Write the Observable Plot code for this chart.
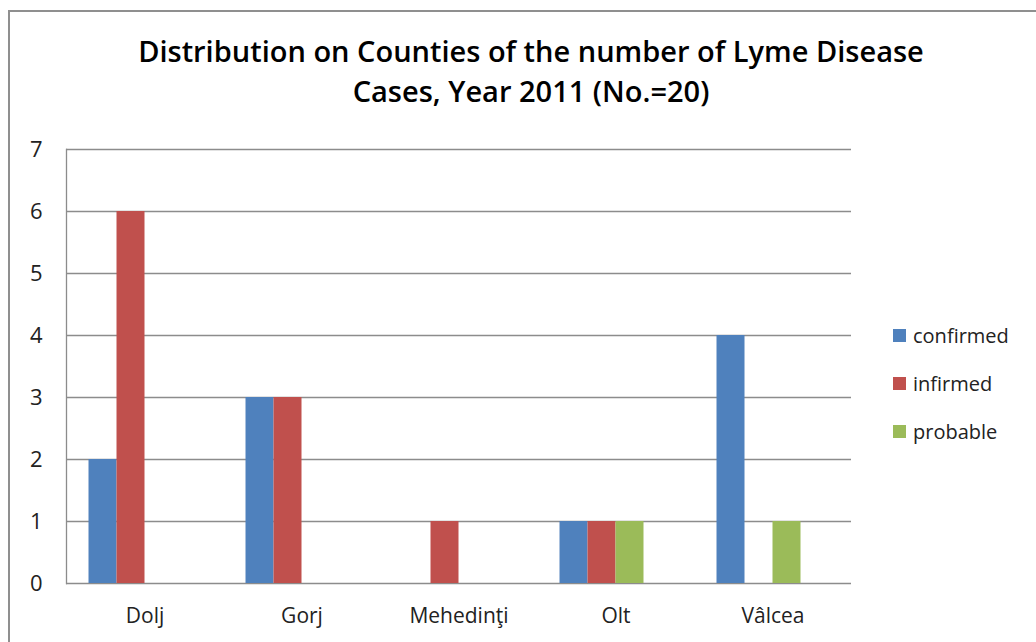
<!DOCTYPE html>
<html>
<head>
<meta charset="utf-8">
<script src="https://cdn.jsdelivr.net/npm/d3@7"></script>
<script src="https://cdn.jsdelivr.net/npm/@observablehq/plot@0.6"></script>
<style>
  html, body { margin: 0; padding: 0; background: #fff; }
  #wrap { position: relative; width: 1036px; height: 642px; overflow: hidden; font-family: "Open Sans", sans-serif; }
  #border { position: absolute; left: 8px; top: 10px; width: 1200px; height: 800px; border-top: 2px solid #8f8f8f; border-left: 2px solid #8f8f8f; }
  #title { position: absolute; left: 0; top: 31px; width: 1062px; text-align: center; font-size: 29px; font-weight: 600; line-height: 40px; color: #000; }
  #chart { position: absolute; left: 0; top: 120px; }
  #legend { position: absolute; left: 893px; top: 311px; }
  .row { display: flex; align-items: center; height: 48px; font-size: 20px; color: #222; }
  .sw { width: 13px; height: 13px; margin-right: 7px; }
</style>
</head>
<body>
<div id="wrap">
  <div id="border"></div>
  <div id="title"></div>
  <div id="chart"></div>
  <div id="legend"></div>
</div>
<script>
const titleLines = ["Distribution on Counties of the number of Lyme Disease", "Cases, Year 2011 (No.=20)"];
const counties = ["Dolj", "Gorj", "Mehedinţi", "Olt", "Vâlcea"];
const series = ["confirmed", "infirmed", "probable"];
const confirmed = [2, 3, 0, 1, 4];
const infirmed = [6, 3, 1, 1, 0];
const probable = [0, 0, 0, 1, 1];
const colors = ["#4F81BD", "#C0504D", "#9BBB59"];
const yTicks = [0, 1, 2, 3, 4, 5, 6, 7];

const valuesBySeries = [confirmed, infirmed, probable];
const data = [];
counties.forEach((c, i) => {
  series.forEach((s, j) => {
    data.push({county: c, series: s, value: valuesBySeries[j][i]});
  });
});

document.getElementById("title").innerHTML = titleLines.join("<br>");

const chart = Plot.plot({
  width: 870,
  height: 522,
  marginLeft: 66,
  marginRight: 19,
  marginTop: 29,
  marginBottom: 59,
  style: {fontFamily: "Open Sans, sans-serif", color: "#222", background: "transparent"},
  fx: {domain: counties, padding: 0, round: false, label: null},
  x: {domain: [...series, "_"], paddingInner: 0, paddingOuter: 0.804, round: false, axis: null},
  y: {domain: [0, 7], ticks: yTicks, label: null},
  color: {domain: series, range: colors},
  marks: [
    Plot.gridY(yTicks, {stroke: "#8c8c8c", strokeOpacity: 1, strokeWidth: 1.3}),
    Plot.frame({anchor: "left", facet: "super", stroke: "#8c8c8c", strokeWidth: 1.3}),
    Plot.barY(data.filter(d => d.value > 0), {fx: "county", x: "series", y: "value", fill: "series", inset: 0}),
    Plot.axisY(yTicks, {tickSize: 0, tickPadding: 24, fontSize: 22, tickFormat: d => String(d), label: null}),
    Plot.axisFx({anchor: "bottom", tickSize: 0, tickPadding: 25, fontSize: 21, label: null})
  ]
});
document.getElementById("chart").appendChild(chart);

const legend = document.getElementById("legend");
series.forEach((s, i) => {
  const row = document.createElement("div");
  row.className = "row";
  row.innerHTML = `<div class="sw" style="background:${colors[i]}"></div><span>${s}</span>`;
  legend.appendChild(row);
});
</script>
</body>
</html>
